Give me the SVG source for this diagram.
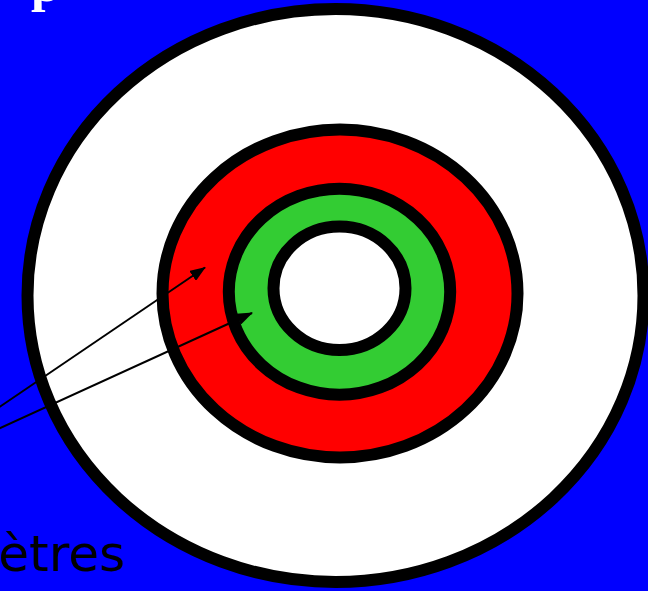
<svg xmlns="http://www.w3.org/2000/svg" width="648" height="591" viewBox="0 0 648 591">
<style>
.ring{stroke:#000;stroke-width:12}
.conn{stroke:#000;stroke-width:2;fill:none}
</style>
<defs>
<marker id="ah" markerWidth="16" markerHeight="12" refX="15" refY="6" orient="auto" markerUnits="userSpaceOnUse">
<path d="M0,0 L16,6 L0,12 Z" fill="#000"/>
</marker>
</defs>
<rect x="0" y="0" width="648" height="591" fill="#0000ff"/>
<text x="31" y="1" font-family="Liberation Serif, serif" font-weight="bold" font-size="52" fill="#fff">p</text>
<text x="125" y="571" text-anchor="end" font-family="DejaVu Sans, sans-serif" font-size="50" fill="#000">ètres</text>
<g id="outer"><ellipse class="ring" cx="335.5" cy="295.5" rx="308" ry="286.5" fill="#fff"/></g>
<g id="red"><ellipse class="ring" cx="340" cy="293.5" rx="177.5" ry="164" fill="#ff0000"/></g>
<g id="green"><ellipse class="ring" cx="339.5" cy="291.7" rx="110.7" ry="103" fill="#33cc33"/></g>
<g id="inner"><ellipse class="ring" cx="339.5" cy="288.3" rx="66" ry="61.7" fill="#fff"/></g>
<g id="connectors">
<line class="conn" x1="-2" y1="408" x2="205" y2="267.5" marker-end="url(#ah)"/>
<line class="conn" x1="-2" y1="429" x2="252" y2="313" marker-end="url(#ah)"/>
</g>
</svg>
